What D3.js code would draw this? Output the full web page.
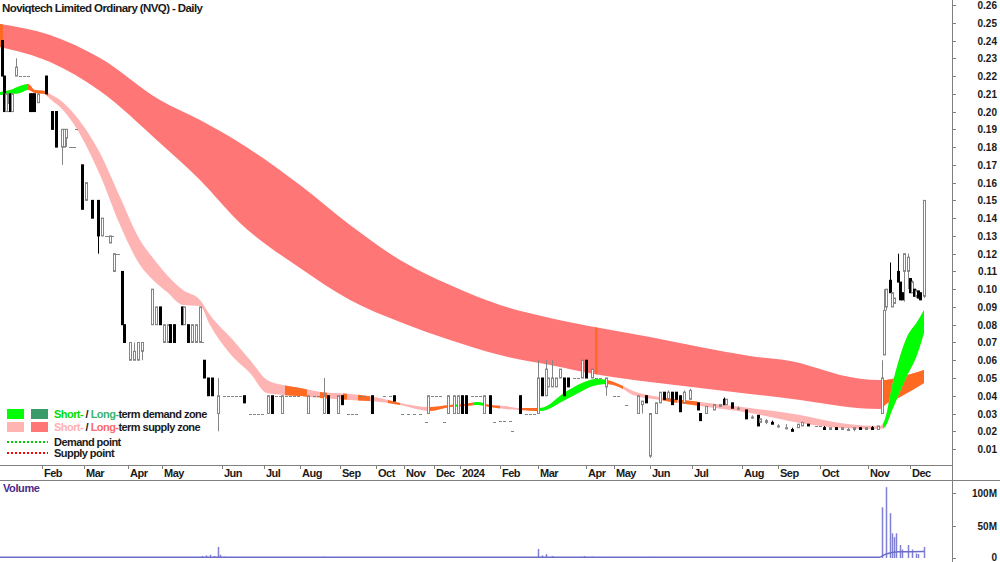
<!DOCTYPE html>
<html lang="en">
<head>
  <meta charset="UTF-8">
  <title>Noviqtech Limited Ordinary (NVQ) - Daily</title>
  <script src="https://d3js.org/d3.v7.min.js"></script>
  <style>
    body { margin: 0; background: #fff; }
    svg { font-family: "Liberation Sans", Arial, sans-serif; font-weight: bold; display: block; }
  </style>
</head>
<body>
  <svg width="1000" height="562"></svg>
  <script>
    // ---- data (day = trading-day index) ----
    const monthLabels = ["Feb","Mar","Apr","May","Jun","Jul","Aug","Sep","Oct","Nov","Dec","2024",
                         "Feb","Mar","Apr","May","Jun","Jul","Aug","Sep","Oct","Nov","Dec"];
    const monthDays = [21, 42, 64, 81, 111, 132, 150, 170, 188, 202, 217, 230,
                       250, 269, 293, 307, 325, 346, 371, 389, 410, 434, 455];

    const priceTicks = d3.range(1, 27).map(v => v / 100);
    const volumeTicks = [0, 50, 100];

    // long-term supply zone (upper / lower edge)
    const ltDays  = [0, 25, 50, 80, 100, 120, 150, 175, 200, 225, 250, 275, 300, 325, 350, 375, 400, 410, 420, 440, 443, 450, 462];
    const ltUpper = [.2493, .2431, .2302, .2065, .1952, .1823, .1586, .1361, .1164, .1023, .0911, .0838, .0781, .0731, .0674, .0624, .0584, .0550, .0517, .0489, .0489, .0505, .0545];
    const ltLower = [.2364, .2279, .2116, .1823, .1615, .1373, .1119, .0939, .0815, .0714, .0629, .0573, .0517, .0477, .0443, .0410, .0376, .0359, .0342, .0325, .0353, .0393, .0472];

    // short-term zone
    const stDays  = [0, 5, 10, 14, 17.5, 22.5, 25, 30, 37.5, 50, 60, 70, 76.5, 83.5, 91.5, 100, 105, 116.5, 125, 133.5, 141.5, 150, 160, 175, 190, 200, 215, 225, 232.5, 239, 245, 252.5, 260, 270, 283.5, 298.5, 303.5, 311.5, 316.5, 330, 350, 375, 400, 420, 440, 442, 446.5, 453.5, 458.5, 462];
    const stUpper = [.2110, .2121, .2144, .2155, .2121, .2116, .2099, .2065, .1981, .1767, .1519, .1277, .1175, .1080, .0995, .0939, .0855, .0714, .0601, .0489, .0460, .0443, .0421, .0410, .0387, .0359, .0336, .0348, .0353, .0365, .0348, .0342, .0331, .0331, .0427, .0494, .0489, .0455, .0427, .0393, .0365, .0331, .0292, .0247, .0230, .0253, .0477, .0731, .0815, .0883];
    const stLower = [.2093, .2099, .2105, .2121, .2105, .2099, .2071, .2026, .1919, .1643, .1361, .1136, .1052, .0984, .0911, .0905, .0798, .0618, .0528, .0415, .0404, .0398, .0387, .0376, .0365, .0348, .0314, .0336, .0342, .0348, .0336, .0325, .0320, .0314, .0382, .0460, .0466, .0438, .0404, .0376, .0342, .0303, .0247, .0219, .0213, .0219, .0331, .0511, .0629, .0753];

    // colour changes along the zones: [fromDay, toDay, kind]
    const ltSegments = [[0, 1.5, "change"], [297.5, 298.7, "change"], [441.5, 463, "change"]];
    const stSegments = [[0, 14, "demand"], [14, 24, "change"], [142.5, 153.5, "change"], [160, 163.5, "change"],
                        [171.5, 173.5, "change"], [179, 185, "change"], [194, 200, "change"], [215, 226.5, "change"],
                        [226.5, 229, "demand"], [229, 236.5, "change"], [236.5, 241.5, "demand"], [241.5, 250, "change"],
                        [260, 270, "change"], [270, 303.5, "demand"], [303.5, 311.5, "change"], [331.5, 338.5, "change"],
                        [341, 348.5, "change"], [441.5, 463, "demand"]];

    // daily bars: [day, open, high, low, close]
    const bars = [
      [1,.240,.240,.220,.220],[2,.220,.220,.200,.200],[3,.200,.210,.200,.210],[4,.200,.210,.200,.205],
      [5,.210,.210,.200,.200],[6,.200,.210,.200,.210],[8,.220,.230,.220,.225],[10,.22,.22,.22,.22],
      [12,.22,.22,.22,.22],[14,.22,.22,.22,.22],[15,.21,.21,.20,.20],[16,.21,.21,.20,.20],[17,.21,.21,.20,.20],
      [19,.205,.21,.205,.21],[23,.22,.22,.21,.21],[26,.20,.20,.19,.19],[28,.20,.20,.18,.18],
      [31,.18,.19,.17,.19],[32,.18,.19,.18,.19],[33,.185,.19,.18,.19],[35,.18,.18,.18,.18],
      [36,.18,.18,.18,.18],[37,.18,.18,.18,.18],[38,.19,.19,.19,.19],[41,.17,.17,.145,.145],
      [43,.15,.16,.15,.16],[46,.15,.15,.14,.14],[49,.15,.15,.12,.13],[51,.13,.14,.13,.14],
      [53,.13,.13,.13,.13],[54,.13,.13,.13,.13],[55,.126,.13,.126,.13],[56,.13,.13,.13,.13],
      [57,.11,.12,.11,.12],[58,.12,.12,.12,.12],[59,.12,.12,.12,.12],[61,.11,.11,.08,.08],
      [62,.08,.08,.07,.07],[65,.06,.07,.06,.07],[67,.06,.07,.06,.065],[69,.06,.07,.06,.07],
      [71,.065,.07,.06,.07],[76,.08,.10,.08,.10],[78,.08,.09,.08,.09],[80,.09,.09,.08,.08],
      [82,.07,.08,.07,.08],[84,.07,.08,.07,.08],[85,.08,.08,.07,.07],[87,.08,.08,.07,.07],
      [91,.09,.09,.08,.08],[92,.08,.09,.08,.09],[94,.08,.08,.07,.07],[96,.07,.08,.07,.08],
      [98,.07,.08,.07,.08],[100,.07,.09,.07,.09],[101,.07,.07,.07,.07],[102,.06,.06,.05,.05],
      [104,.05,.05,.04,.04],[106,.05,.05,.04,.04],[109,.03,.05,.02,.04],[112,.04,.04,.04,.04],
      [114,.04,.04,.04,.04],[116,.04,.04,.04,.04],[118,.04,.04,.04,.04],[120,.04,.04,.04,.04],
      [122,.04,.04,.036,.036],[125,.03,.03,.03,.03],[127,.03,.03,.03,.03],[129,.03,.03,.03,.03],
      [131,.03,.03,.03,.03],[134,.03,.04,.03,.04],[136,.04,.04,.03,.03],[138,.04,.04,.04,.04],
      [140,.04,.04,.04,.04],[141,.03,.04,.03,.04],[143,.04,.04,.04,.04],[145,.04,.04,.04,.04],
      [147,.04,.04,.04,.04],[149,.04,.04,.04,.04],[154,.03,.04,.03,.04],[157,.04,.04,.04,.04],
      [159,.04,.04,.04,.04],[162,.03,.05,.03,.04],[164,.04,.04,.03,.03],[169,.03,.04,.03,.04],
      [171,.04,.04,.035,.035],[174,.03,.03,.03,.03],[176,.03,.03,.03,.03],[178,.03,.03,.03,.03],
      [180,.04,.04,.04,.04],[182,.04,.04,.04,.04],[186,.04,.04,.03,.03],[192,.04,.04,.04,.04],
      [195,.04,.04,.04,.04],[197,.04,.04,.037,.037],[201,.03,.03,.03,.03],[204,.03,.03,.03,.03],
      [207,.03,.03,.03,.03],[210,.03,.03,.03,.03],[213,.025,.025,.025,.025],[214,.03,.04,.03,.04],
      [216,.04,.04,.04,.04],[218,.04,.04,.04,.04],[220,.04,.04,.04,.04],[222,.025,.025,.025,.025],
      [224,.03,.04,.03,.04],[227,.03,.04,.03,.04],[229,.03,.04,.03,.04],[231,.04,.04,.03,.03],
      [233,.04,.04,.03,.03],[236,.04,.04,.04,.04],[238,.04,.04,.04,.04],[240,.04,.04,.04,.04],
      [242,.03,.04,.03,.04],[245,.04,.04,.03,.03],[247,.025,.025,.025,.025],[250,.026,.026,.026,.026],
      [252,.026,.026,.026,.026],[255,.026,.026,.026,.026],[256,.02,.02,.02,.02],[260,.04,.04,.03,.03],
      [263,.03,.03,.03,.03],[265,.03,.03,.03,.03],[267,.03,.03,.03,.03],[269,.03,.06,.03,.05],
      [271,.05,.05,.04,.04],[273,.04,.06,.04,.055],[274,.045,.05,.045,.05],[276,.045,.06,.045,.05],
      [278,.045,.05,.045,.05],[280,.05,.055,.05,.055],[282,.05,.05,.04,.04],[284,.05,.05,.045,.045],
      [287,.05,.05,.05,.05],[289,.05,.05,.05,.05],[291,.05,.06,.05,.06],[293,.06,.06,.05,.05],
      [296,.05,.055,.05,.055],[298,.05,.05,.05,.05],[300,.05,.05,.05,.05],[303,.045,.05,.04,.05],
      [307,.04,.04,.04,.04],[309,.04,.04,.04,.04],[313,.035,.035,.035,.035],[319,.03,.04,.03,.04],
      [321,.035,.037,.03,.037],[323,.04,.04,.036,.036],[325,.006,.03,.005,.03],[328,.03,.036,.03,.036],
      [330,.036,.042,.036,.042],[332,.042,.042,.038,.038],[334,.038,.043,.038,.042],[336,.042,.042,.035,.035],
      [338,.042,.042,.038,.038],[340,.04,.04,.031,.031],[342,.036,.043,.036,.042],[345,.038,.044,.038,.043],
      [349,.036,.036,.032,.032],[350,.03,.03,.026,.026],[353,.03,.034,.03,.034],[357,.032,.035,.032,.035],
      [360,.034,.035,.034,.035],[362,.038,.039,.035,.035],[363,.035,.038,.035,.038],[366,.036,.036,.033,.033],
      [369,.033,.034,.032,.033],[373,.032,.032,.027,.027],[376,.028,.029,.027,.028],[379,.029,.029,.023,.023],
      [380,.025,.027,.025,.027],[383,.025,.027,.024,.026],[386,.025,.026,.024,.024],[389,.023,.024,.022,.023],
      [393,.022,.024,.021,.022],[396,.021,.022,.02,.02],[399,.022,.024,.022,.024],[401,.023,.025,.023,.025],
      [404,.024,.024,.023,.023],[408,.023,.023,.023,.023],[410,.023,.023,.023,.023],[412,.022,.023,.021,.021],
      [415,.021,.022,.021,.022],[418,.022,.022,.021,.021],[421,.021,.022,.021,.022],[424,.021,.022,.021,.021],
      [427,.021,.022,.02,.022],[430,.022,.022,.021,.021],[433,.021,.022,.021,.022],[436,.022,.023,.021,.021],
      [439,.021,.023,.021,.023],[441,.03,.06,.03,.05],[442,.063,.10,.063,.088],[443,.09,.10,.088,.10],
      [445,.105,.115,.098,.098],[446,.09,.098,.09,.098],[447,.092,.095,.092,.095],[449,.11,.12,.104,.104],
      [450,.104,.104,.094,.094],[451,.098,.098,.094,.094],[452,.11,.12,.093,.12],[454,.11,.12,.10,.118],
      [455,.106,.106,.098,.098],[456,.098,.105,.098,.104],[457,.10,.10,.096,.096],[458,.096,.10,.095,.099],
      [459,.099,.099,.095,.095],[460,.098,.098,.094,.094],[462,.096,.15,.095,.15]
    ];

    // volume in millions
    const volDays   = [61, 101, 103, 105, 107, 109, 110, 112, 134, 162, 214, 269, 271, 273, 276, 292, 296, 325,
                       441, 443, 445, 446, 447, 448, 450, 451, 454, 456, 458, 459, 462];
    const volValues = [1, 3, 4, 5, 3, 17, 5, 2, 1, 2, 1, 14, 4, 6, 3, 3, 2, 2,
                       78, 109, 69, 38, 32, 38, 20, 13, 20, 13, 7, 6, 17];
    const volAvgDays = [0, 440, 441, 443, 446, 450, 462];
    const volAvg     = [1.3, 1.3, 3, 6, 8.5, 9.5, 10];

    // ---- setup ----
    const svg = d3.select("svg");
    const plotRight = 952;
    const colors = {
      ltSupply: "#ff7676", stSupply: "#ffb4b4", demand: "#00ff00", ltDemand: "#3a9a6a",
      change: "#ff6a22", up: "#858585", text: "#1a1a1a", axis: "#808080", volume: "#8080d4", volLabel: "#4a2a8c"
    };

    const x = d3.scaleLinear().domain([0, 476]).range([0, plotRight]);
    const y = d3.scaleLinear().domain([0, 0.26]).range([466.8, 5]);
    const yv = d3.scaleLinear().domain([0, 100]).range([558, 493]);

    const defs = svg.append("defs");
    defs.append("clipPath").attr("id", "price-clip")
      .append("rect").attr("x", 0).attr("y", 0).attr("width", plotRight).attr("height", 465);

    const price = svg.append("g").attr("clip-path", "url(#price-clip)");

    // ---- zones ----
    function drawZone(days, upper, lower, baseColor, segments, name) {
      const rows = days.map((d, i) => ({ d, u: upper[i], l: lower[i] }));
      const area = d3.area()
        .x(r => x(r.d)).y0(r => y(r.l)).y1(r => y(r.u))
        .curve(d3.curveMonotoneX);
      const path = area(rows);
      price.append("path").attr("d", path).attr("fill", baseColor);
      segments.forEach(([from, to, kind], k) => {
        const id = `${name}-seg-${k}`;
        defs.append("clipPath").attr("id", id)
          .append("rect")
          .attr("x", x(from)).attr("y", 0)
          .attr("width", x(to) - x(from)).attr("height", 465);
        price.append("path").attr("d", path)
          .attr("fill", colors[kind])
          .attr("clip-path", `url(#${id})`);
      });
    }
    drawZone(ltDays, ltUpper, ltLower, colors.ltSupply, ltSegments, "lt");
    drawZone(stDays, stUpper, stLower, colors.stSupply, stSegments, "st");

    // ---- bars ----
    const barG = price.append("g").selectAll("g").data(bars).join("g")
      .attr("transform", d => `translate(${Math.round(x(d[0])) + 0.5},0)`);

    barG.each(function([day, o, h, l, c]) {
      const g = d3.select(this);
      const isUp = c >= o;
      const col = isUp ? colors.up : "#000";
      if (h === l) {
        g.append("line").attr("x1", -1.5).attr("x2", 1.5)
          .attr("y1", Math.round(y(c)) + 0.5).attr("y2", Math.round(y(c)) + 0.5)
          .attr("stroke", colors.up).attr("stroke-width", 1);
        return;
      }
      g.append("line").attr("x1", 0).attr("x2", 0)
        .attr("y1", y(h)).attr("y2", y(l))
        .attr("stroke", col).attr("stroke-width", 1);
      const top = y(Math.max(o, c));
      const bot = y(Math.min(o, c));
      g.append("rect")
        .attr("x", -1).attr("width", 2)
        .attr("y", top).attr("height", Math.max(1, bot - top))
        .attr("fill", isUp ? "#fff" : "#000")
        .attr("stroke", col).attr("stroke-width", 1);
    });

    // ---- title ----
    svg.append("text").attr("x", 2).attr("y", 12)
      .attr("font-size", 11.5).attr("letter-spacing", -0.6)
      .attr("fill", colors.text)
      .text("Noviqtech Limited Ordinary (NVQ) - Daily");

    // ---- legend ----
    const legend = svg.append("g").attr("font-size", 11).attr("letter-spacing", -0.55);
    const legendRows = [
      { y: 409, sw: [colors.demand, colors.ltDemand], parts: [["Short-", "#00dd00"], [" / ", colors.text], ["Long-", "#3cb371"], ["term demand zone", colors.text]] },
      { y: 422, sw: [colors.stSupply, colors.ltSupply], parts: [["Short-", "#ffb0b0"], [" / ", colors.text], ["Long-", "#ff6a6a"], ["term supply zone", colors.text]] }
    ];
    legendRows.forEach(r => {
      legend.append("rect").attr("x", 7).attr("y", r.y).attr("width", 17).attr("height", 10).attr("fill", r.sw[0]);
      legend.append("rect").attr("x", 31).attr("y", r.y).attr("width", 17).attr("height", 10).attr("fill", r.sw[1]);
      const t = legend.append("text").attr("x", 54).attr("y", r.y + 9);
      r.parts.forEach(([s, c]) => t.append("tspan").attr("fill", c).text(s));
    });
    [[442, "#00cc00", "Demand point"], [453, "#ff0000", "Supply point"]].forEach(([ly, c, label]) => {
      legend.append("line").attr("x1", 7).attr("x2", 48).attr("y1", ly).attr("y2", ly)
        .attr("stroke", c).attr("stroke-width", 2).attr("stroke-dasharray", "2,2");
      legend.append("text").attr("x", 54).attr("y", ly + 4).attr("fill", colors.text).text(label);
    });

    // ---- x axis band ----
    svg.append("line").attr("x1", 0).attr("x2", plotRight).attr("y1", 465.5).attr("y2", 465.5).attr("stroke", colors.axis);
    svg.append("line").attr("x1", 0).attr("x2", 1000).attr("y1", 480.5).attr("y2", 480.5).attr("stroke", colors.axis);
    const months = svg.append("g").selectAll("g").data(monthDays).join("g")
      .attr("transform", d => `translate(${Math.round(x(d)) + 0.5},0)`);
    months.append("line").attr("y1", 465).attr("y2", 469).attr("stroke", colors.axis);
    months.append("text").attr("x", 1.5).attr("y", 477)
      .attr("font-size", 11).attr("letter-spacing", -0.5).attr("fill", colors.text)
      .text((d, i) => monthLabels[i]);

    // ---- right axis ----
    svg.append("line").attr("x1", plotRight + 0.5).attr("x2", plotRight + 0.5)
      .attr("y1", 0).attr("y2", 562).attr("stroke", colors.axis);
    const pTicks = svg.append("g").selectAll("g").data(priceTicks).join("g")
      .attr("transform", d => `translate(0,${Math.round(y(d)) + 0.5})`);
    pTicks.append("line").attr("x1", plotRight).attr("x2", plotRight + 4).attr("stroke", colors.axis);
    pTicks.append("text").attr("x", 997).attr("y", 3.5).attr("text-anchor", "end")
      .attr("font-size", 10).attr("fill", colors.text).text(d => d3.format(".2f")(d));

    const vTicks = svg.append("g").selectAll("g").data(volumeTicks).join("g")
      .attr("transform", d => `translate(0,${Math.round(yv(d)) + 0.5})`);
    vTicks.append("line").attr("x1", plotRight).attr("x2", plotRight + 4).attr("stroke", colors.axis);
    vTicks.append("text").attr("x", 997).attr("y", d => d === 0 ? 2 : 3.5).attr("text-anchor", "end")
      .attr("font-size", 10).attr("fill", colors.text).text(d => d === 0 ? "0" : d + "M");

    // ---- volume ----
    svg.append("text").attr("x", 3).attr("y", 492)
      .attr("font-size", 11).attr("letter-spacing", -0.4).attr("fill", colors.volLabel).text("Volume");
    svg.append("g").selectAll("line").data(volDays).join("line")
      .attr("x1", d => Math.round(x(d)) + 0.5).attr("x2", d => Math.round(x(d)) + 0.5)
      .attr("y1", yv(0)).attr("y2", (d, i) => yv(volValues[i]))
      .attr("stroke", colors.volume).attr("stroke-width", 1.5);
    const avgLine = d3.line().x(d => x(d[0])).y(d => yv(d[1])).curve(d3.curveMonotoneX);
    svg.append("path").attr("d", avgLine(volAvgDays.map((d, i) => [d, volAvg[i]])))
      .attr("fill", "none").attr("stroke", "#6c6cc8").attr("stroke-width", 1.5);
  </script>
</body>
</html>
